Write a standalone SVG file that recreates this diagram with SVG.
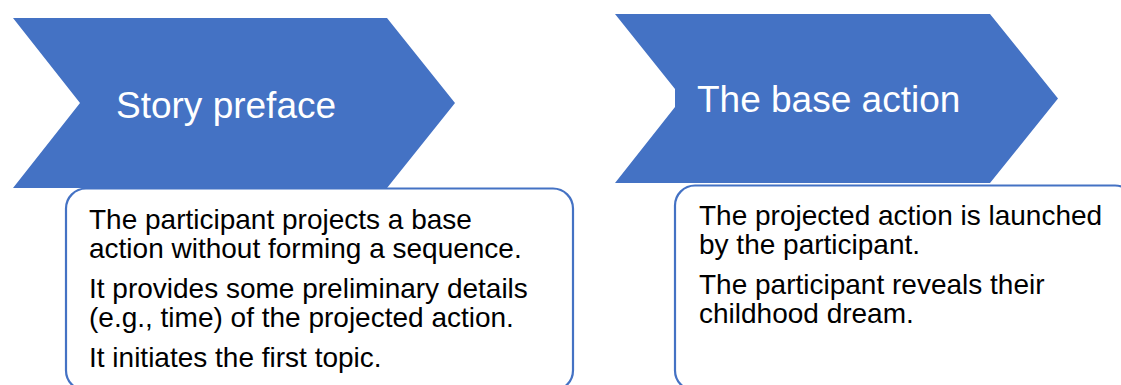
<svg xmlns="http://www.w3.org/2000/svg" width="1121" height="385" viewBox="0 0 1121 385">
<style>
.box{fill:#ffffff;stroke:#4472C4;stroke-width:2.2}
.chev{fill:#4472C4}
.head{font-family:"Liberation Sans",Arial,sans-serif;font-size:37px;fill:#ffffff}
.body{font-family:"Liberation Sans",Arial,sans-serif;font-size:28px;fill:#000000}
</style>
<rect width="1121" height="385" fill="#ffffff"/>
<g id="box1">
<rect class="box" x="66" y="188.5" width="507" height="202" rx="20" ry="20"/>
<text class="body" x="89" y="229">The participant projects a base</text>
<text class="body" x="89" y="258">action without forming a sequence.</text>
<text class="body" x="89" y="298">It provides some preliminary details</text>
<text class="body" x="89" y="327">(e.g., time) of the projected action.</text>
<text class="body" x="89" y="367">It initiates the first topic.</text>
</g>
<g id="box2">
<rect class="box" x="675" y="185.5" width="460" height="205" rx="20" ry="20"/>
<text class="body" x="699" y="225">The projected action is launched</text>
<text class="body" x="699" y="254">by the participant.</text>
<text class="body" x="699" y="294">The participant reveals their</text>
<text class="body" x="699" y="323">childhood dream.</text>
</g>
<g id="chevron1">
<polygon class="chev" points="13,18 387,18 455,103 387,188 13,188 80,103"/>
<text class="head" x="116" y="118">Story preface</text>
</g>
<g id="chevron2">
<polygon class="chev" points="615,14 990,14 1058,98.5 990,183 615,183 675,107 675,89"/>
<text class="head" x="697" y="112">The base action</text>
</g>
<g id="connectors"></g>
</svg>
